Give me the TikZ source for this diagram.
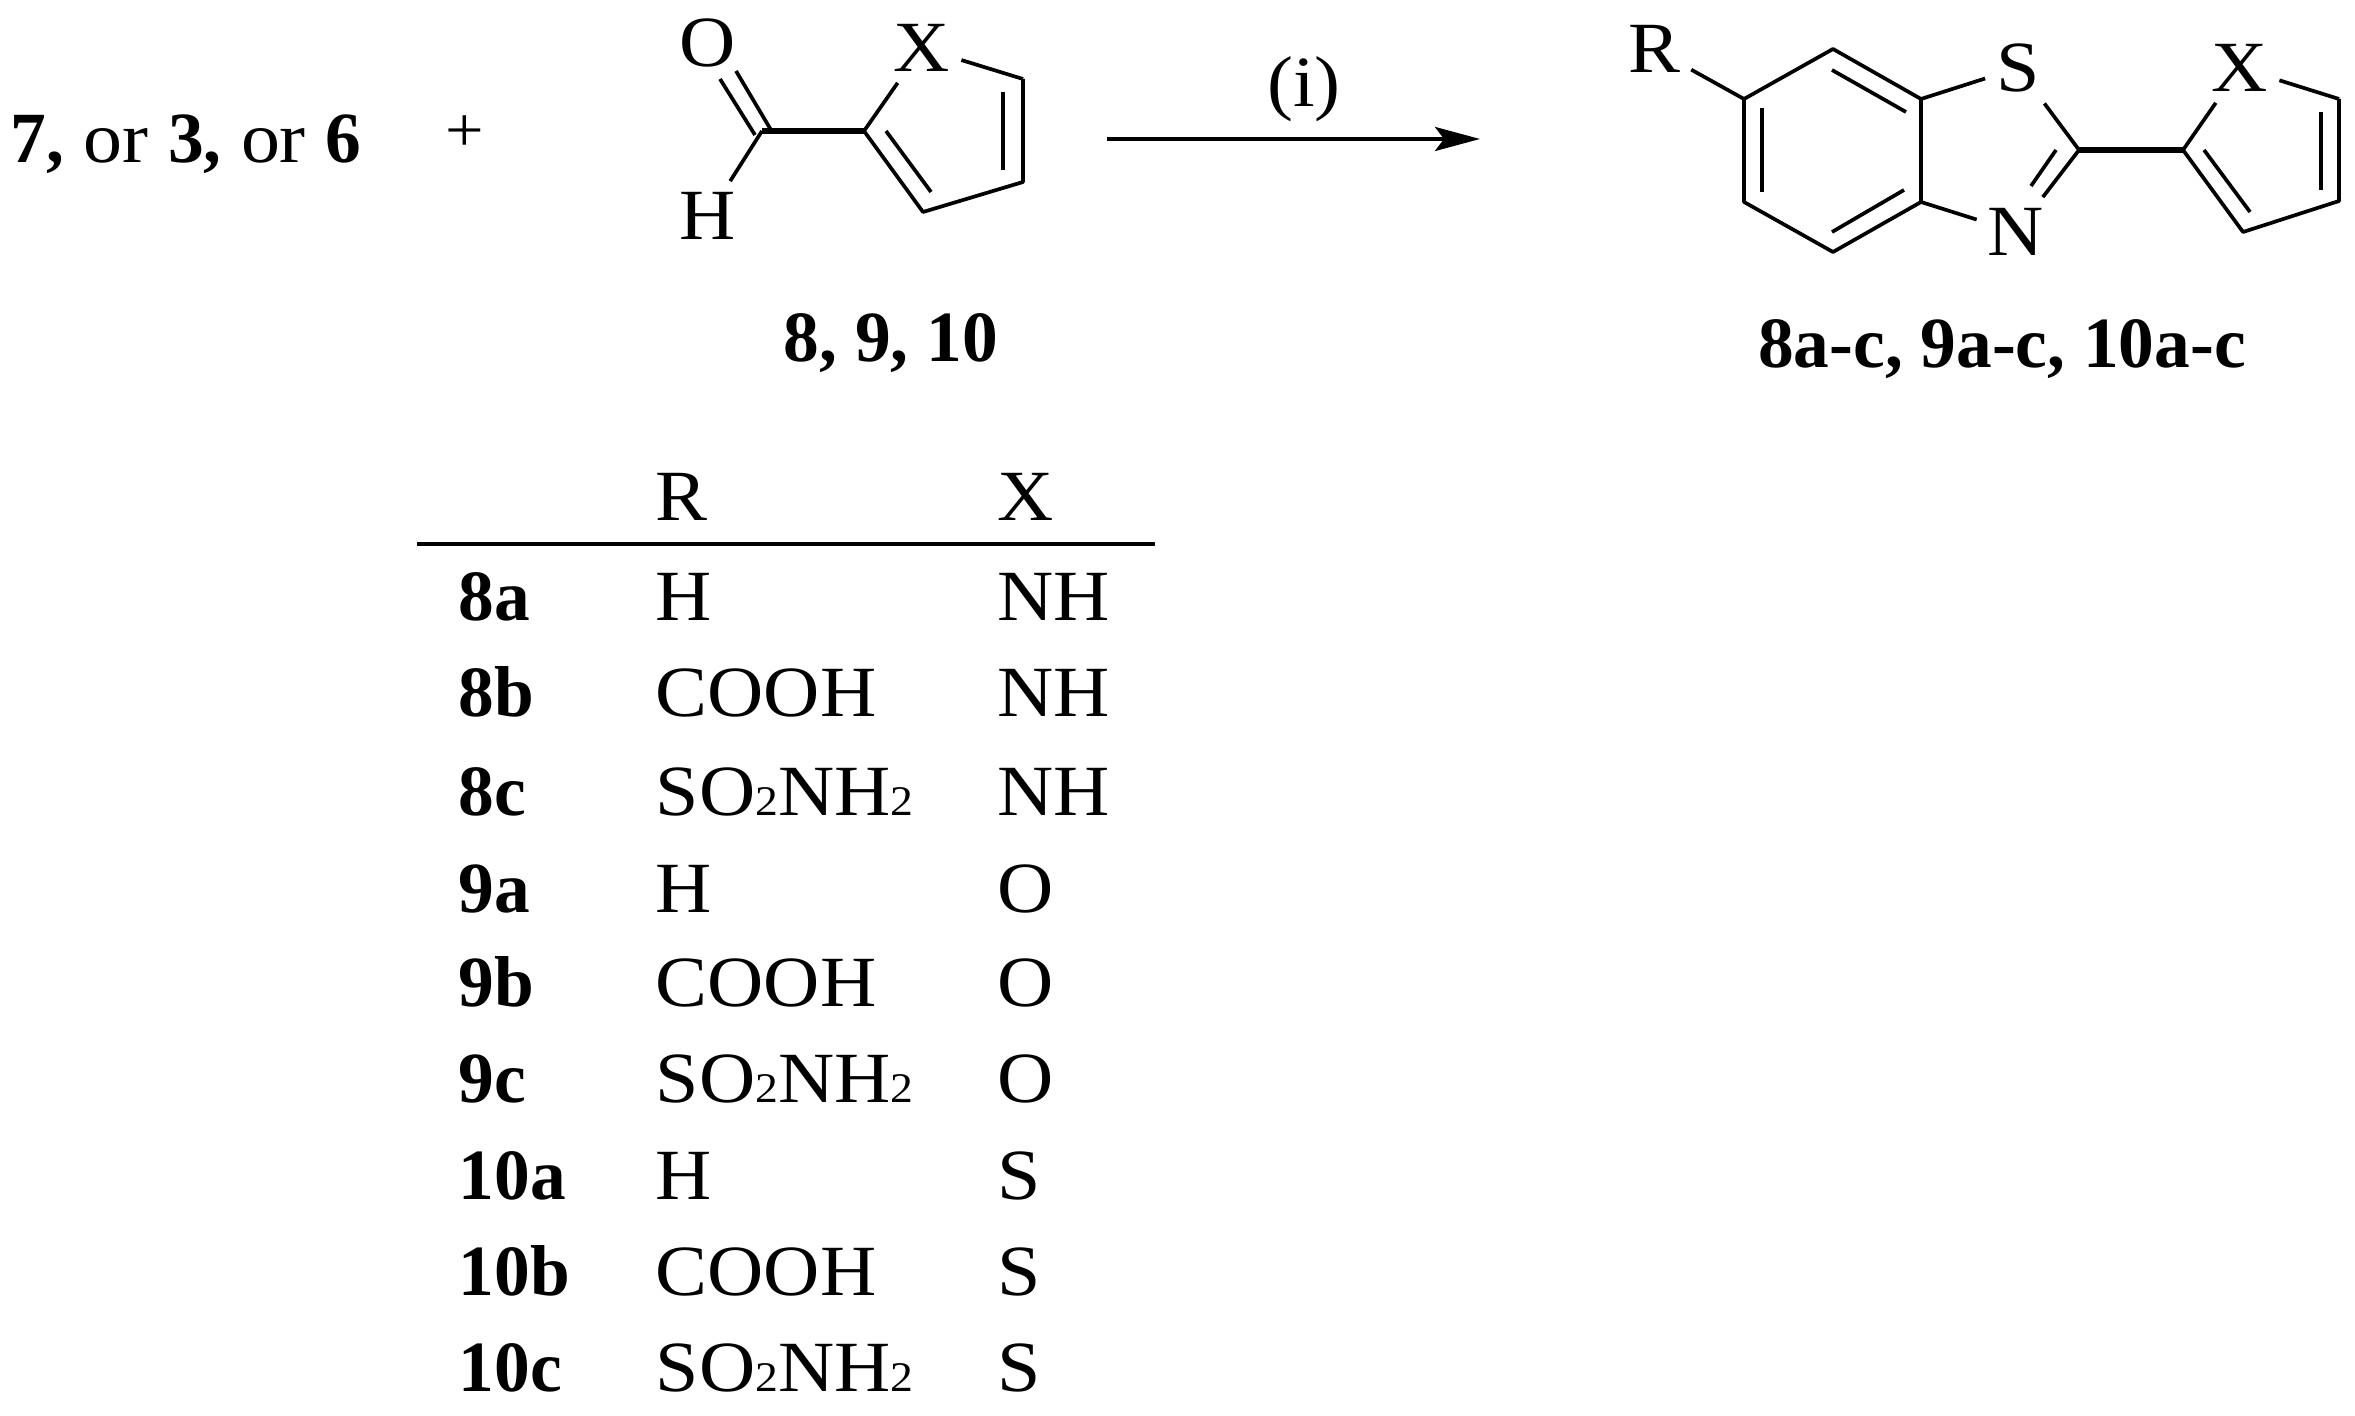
\documentclass[tikz,border=0pt]{standalone}
\usepackage{fontspec}
\setmainfont[FakeStretch=1.08,BoldFeatures={FakeStretch=0.99}]{Liberation Serif}
\usetikzlibrary{arrows.meta}
\tikzset{
  bond/.style={line width=1.05pt},
  thickbond/.style={line width=1.6pt},
  atom/.style={inner sep=3pt,font=\fontsize{20.5}{24}\selectfont},
  txt/.style={inner sep=0pt,anchor=base west,font=\fontsize{20.5}{24}\selectfont},
  cpd/.style={txt,font=\fontsize{20.5}{24}\selectfont\bfseries},
}
\newcommand{\sulfamoyl}{SO{\fontsize{12}{12}\selectfont 2}NH{\fontsize{12}{12}\selectfont 2}}
\begin{document}
\begin{tikzpicture}[x=0.01cm,y=-0.01cm]
  \useasboundingbox (0,0) rectangle (2355,1416);
  % left side of the scheme
  \node[txt] (start) at (10,163) {\textbf{7,} or \textbf{3,} or \textbf{6}};
  \node[inner sep=0pt,font=\fontsize{18}{18}\selectfont] (plus) at (465,134) {+};
  % aldehyde
  \node[atom] (aO) at (708,43) {O};
  \node[atom] (aH) at (708,216) {H};
  \node[atom] (aX) at (922,48) {X};
  \coordinate (aC) at (762,131);
  \coordinate (a1) at (864,131);
  \coordinate (a2) at (1023,79);
  \coordinate (a3) at (1023,182);
  \coordinate (a4) at (923,212);
  \coordinate (aO1) at (720,79);
  \coordinate (aO1b) at (755,135);
  \coordinate (aO2) at (736,71);
  \coordinate (aO2b) at (771,130);
  \coordinate (ai1) at (886,131);
  \coordinate (ai2) at (931,192);
  \coordinate (ai3) at (1003,92);
  \coordinate (ai4) at (1003,170);
  \draw[bond] (aO1) -- (aO1b);
  \draw[bond] (aO2) -- (aO2b);
  \draw[bond] (aC) -- (aH);
  \draw[thickbond] (aC) -- (a1);
  \draw[bond] (a1) -- (aX);
  \draw[bond] (aX) -- (a2);
  \draw[bond,line join=round] (a2) -- (a3) -- (a4) -- (a1);
  \draw[bond] (ai1) -- (ai2);
  \draw[bond] (ai3) -- (ai4);
  \node[cpd,anchor=base] (ald) at (891,362) {8, 9, 10};
  % reaction arrow
  \coordinate (arrS) at (1107,139);
  \coordinate (arrE) at (1480,139);
  \draw[line width=1.1pt,-{Stealth[length=45*0.01cm,width=24*0.01cm,inset=9*0.01cm]}] (arrS) -- (arrE);
  \node[txt,anchor=base] (cond) at (1304,107) {(i)};
  % product
  \node[atom] (pR) at (1654,49) {R};
  \node[atom] (pS) at (2018,68) {S};
  \node[atom] (pN) at (2016,232) {N};
  \node[atom] (pX) at (2240,68) {X};
  \coordinate (b1) at (1744,99);
  \coordinate (b2) at (1833,49);
  \coordinate (b3) at (1921,99);
  \coordinate (b4) at (1921,202);
  \coordinate (b5) at (1833,252);
  \coordinate (b6) at (1744,202);
  \coordinate (bi1) at (1762,108);
  \coordinate (bi2) at (1762,192);
  \coordinate (bi3) at (1832,70);
  \coordinate (bi4) at (1906,112);
  \coordinate (bi5) at (1904,190);
  \coordinate (bi6) at (1832,232);
  \coordinate (t1) at (2079,150);
  \coordinate (ti1) at (2056,150);
  \coordinate (ti2) at (2031,186);
  \coordinate (c1) at (2183,150);
  \coordinate (c2) at (2339,99);
  \coordinate (c3) at (2339,201);
  \coordinate (c4) at (2243,232);
  \coordinate (ci1) at (2204,150);
  \coordinate (ci2) at (2250,212);
  \coordinate (ci3) at (2321,112);
  \coordinate (ci4) at (2321,190);
  \draw[bond] (pR) -- (b1);
  \draw[bond,line join=round] (b1) -- (b2) -- (b3) -- (b4) -- (b5) -- (b6) -- cycle;
  \draw[bond] (bi1) -- (bi2);
  \draw[bond] (bi3) -- (bi4);
  \draw[bond] (bi5) -- (bi6);
  \draw[bond] (b3) -- (pS);
  \draw[bond] (b4) -- (pN);
  \draw[bond] (pS) -- (t1);
  \draw[bond] (t1) -- (pN);
  \draw[bond] (ti1) -- (ti2);
  \draw[thickbond] (t1) -- (c1);
  \draw[bond] (c1) -- (pX);
  \draw[bond] (pX) -- (c2);
  \draw[bond,line join=round] (c2) -- (c3) -- (c4) -- (c1);
  \draw[bond] (ci1) -- (ci2);
  \draw[bond] (ci3) -- (ci4);
  \node[cpd,anchor=base] (prod) at (2002,368) {8a-c, 9a-c, 10a-c};
  % table
  \node[txt] (headR) at (655,521) {R};
  \node[txt] (headX) at (997,521) {X};
  \coordinate (ruleL) at (417,544);
  \coordinate (ruleR) at (1155,544);
  \draw[line width=0.9pt] (ruleL) -- (ruleR);
  \node[cpd] (n8a) at (458,620) {8a};
  \node[txt] (r8a) at (655,620) {H};
  \node[txt] (x8a) at (997,620) {NH};
  \node[cpd] (n8b) at (458,716) {8b};
  \node[txt] (r8b) at (655,716) {COOH};
  \node[txt] (x8b) at (997,716) {NH};
  \node[cpd] (n8c) at (458,815) {8c};
  \node[txt] (r8c) at (655,815) {\sulfamoyl};
  \node[txt] (x8c) at (997,815) {NH};
  \node[cpd] (n9a) at (458,912) {9a};
  \node[txt] (r9a) at (655,912) {H};
  \node[txt] (x9a) at (997,912) {O};
  \node[cpd] (n9b) at (458,1006) {9b};
  \node[txt] (r9b) at (655,1006) {COOH};
  \node[txt] (x9b) at (997,1006) {O};
  \node[cpd] (n9c) at (458,1102) {9c};
  \node[txt] (r9c) at (655,1102) {\sulfamoyl};
  \node[txt] (x9c) at (997,1102) {O};
  \node[cpd] (n10a) at (458,1199) {10a};
  \node[txt] (r10a) at (655,1199) {H};
  \node[txt] (x10a) at (997,1199) {S};
  \node[cpd] (n10b) at (458,1295) {10b};
  \node[txt] (r10b) at (655,1295) {COOH};
  \node[txt] (x10b) at (997,1295) {S};
  \node[cpd] (n10c) at (458,1391) {10c};
  \node[txt] (r10c) at (655,1391) {\sulfamoyl};
  \node[txt] (x10c) at (997,1391) {S};
\end{tikzpicture}
\end{document}
